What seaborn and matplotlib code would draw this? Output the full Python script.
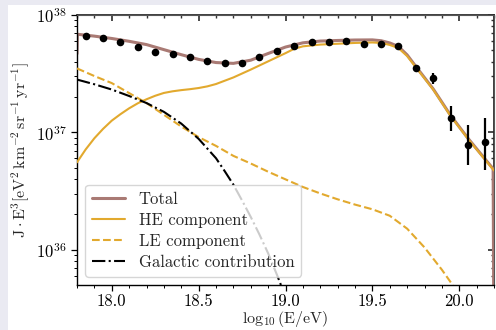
import numpy as np
import pandas as pd
import matplotlib
matplotlib.use("Agg")
import matplotlib.pyplot as plt
from matplotlib.patches import Rectangle
from matplotlib.ticker import LogLocator, MultipleLocator, NullFormatter, FormatStrFormatter
import seaborn as sns

# Measured flux points: log10(E/eV) and log10(J E^3)
points_logE = [17.85, 17.95, 18.05, 18.15, 18.25, 18.35, 18.45, 18.55, 18.65, 18.75,
               18.85, 18.95, 19.05, 19.15, 19.25, 19.35, 19.45, 19.55, 19.65, 19.75,
               19.85, 19.95, 20.05, 20.15]
points_logJ = [37.822, 37.802, 37.773, 37.730, 37.683, 37.672, 37.640, 37.611, 37.587, 37.590,
               37.643, 37.692, 37.736, 37.773, 37.773, 37.781, 37.753, 37.753, 37.732, 37.545,
               37.461, 37.121, 36.894, 36.920]
# Upper / lower ends of the error bars (log10), NaN where hidden by the marker
points_hi = [np.nan] * 19 + [37.565, 37.509, 37.226, 37.064, 37.121]
points_lo = [np.nan] * 19 + [37.525, 37.410, 37.013, 36.723, 36.681]

# Model components: log10(E/eV) and log10(J E^3)
total_logE = [17.80, 17.802, 17.90, 18.00, 18.10, 18.20, 18.30, 18.40, 18.50, 18.60, 18.70,
              18.80, 18.90, 19.00, 19.10, 19.20, 19.30, 19.40, 19.50, 19.55, 19.60,
              19.65, 19.70, 19.75, 19.85, 19.95, 20.05, 20.15, 20.195, 20.20]
total_logJ = [37.670, 37.836, 37.820, 37.800, 37.776, 37.748, 37.705, 37.662, 37.622, 37.595,
              37.588, 37.615, 37.672, 37.727, 37.763, 37.778, 37.783, 37.787, 37.788, 37.781,
              37.762, 37.732, 37.660, 37.562, 37.370, 37.145, 36.950, 36.770, 36.690, 35.000]

he_logE = [17.80, 17.85, 17.90, 17.95, 18.00, 18.05, 18.10, 18.15, 18.20, 18.25,
           18.30, 18.35, 18.40, 18.45, 18.50, 18.55, 18.60, 18.70, 18.80, 18.90,
           19.00, 19.05, 19.10, 19.20, 19.30, 19.40, 19.50, 19.55, 19.60, 19.65,
           19.70, 19.75, 19.85, 19.95, 20.05, 20.15, 20.20]
he_logJ = [36.745, 36.855, 36.950, 37.030, 37.100, 37.155, 37.205, 37.248, 37.282, 37.312,
           37.336, 37.350, 37.360, 37.368, 37.378, 37.392, 37.412, 37.468, 37.535, 37.605,
           37.675, 37.712, 37.733, 37.748, 37.755, 37.762, 37.766, 37.762, 37.745, 37.718,
           37.650, 37.555, 37.365, 37.140, 36.945, 36.765, 36.675]

le_logE = [17.80, 17.90, 18.00, 18.10, 18.20, 18.30, 18.40, 18.50, 18.60, 18.70,
           18.80, 18.90, 19.00, 19.10, 19.20, 19.30, 19.40, 19.50, 19.60, 19.70,
           19.80, 19.90, 20.00, 20.05]
le_logJ = [37.545, 37.480, 37.420, 37.335, 37.250, 37.150, 37.050, 36.960, 36.885, 36.800,
           36.735, 36.665, 36.600, 36.535, 36.480, 36.430, 36.385, 36.345, 36.290, 36.180,
           36.020, 35.830, 35.620, 35.500]

gal_logE = [17.80, 17.90, 18.00, 18.10, 18.20, 18.30, 18.40, 18.50, 18.60, 18.65,
            18.70, 18.75, 18.80, 18.85, 18.90, 18.95, 19.00]
gal_logJ = [37.450, 37.410, 37.365, 37.310, 37.250, 37.175, 37.075, 36.945, 36.780, 36.670,
            36.555, 36.420, 36.280, 36.130, 35.970, 35.790, 35.600]

series_labels = ["Total", "HE component", "LE component", "Galactic contribution"]

C_TOTAL = "#a97a74"
C_GOLD = "#e2a92e"
C_EDGE = "#eaeaf2"

sns.set_theme(style="ticks")
plt.rcParams.update({
    "font.family": ["cmr10", "DejaVu Serif"],
    "mathtext.fontset": "cm",
    "axes.formatter.use_mathtext": True,
    "axes.unicode_minus": False,
    "font.size": 12,
})

fig = plt.figure(figsize=(4.96, 3.30), dpi=100, facecolor="white")
# lavender strips along the left and top edges of the canvas
fig.patches.append(Rectangle((0, 0), 8 / 496, 1, transform=fig.transFigure,
                             facecolor=C_EDGE, edgecolor="none", zorder=-10))
fig.patches.append(Rectangle((0, 1 - 5 / 330), 1, 5 / 330, transform=fig.transFigure,
                             facecolor=C_EDGE, edgecolor="none", zorder=-10))
ax = fig.add_axes([77 / 496, 1 - 285 / 330, 417 / 496, 270 / 330])
ax.set_facecolor("white")

def frame(xs, ys):
    return pd.DataFrame({"logE": xs, "J": np.power(10.0, ys)})

sns.lineplot(data=frame(total_logE, total_logJ), x="logE", y="J", ax=ax, color=C_TOTAL,
             lw=2.2, label=series_labels[0], estimator=None, sort=False, zorder=2)
sns.lineplot(data=frame(he_logE, he_logJ), x="logE", y="J", ax=ax, color=C_GOLD,
             lw=1.5, label=series_labels[1], estimator=None, sort=False, zorder=3)
sns.lineplot(data=frame(le_logE, le_logJ), x="logE", y="J", ax=ax, color=C_GOLD,
             lw=1.5, ls=(0, (3.7, 1.6)), label=series_labels[2], estimator=None, sort=False, zorder=3)
sns.lineplot(data=frame(gal_logE, gal_logJ), x="logE", y="J", ax=ax, color="black",
             lw=1.5, ls=(0, (6.4, 1.6, 1.0, 1.6)), label=series_labels[3], estimator=None,
             sort=False, zorder=3)

pts = pd.DataFrame({"logE": points_logE, "J": np.power(10.0, points_logJ),
                    "hi": np.power(10.0, points_hi), "lo": np.power(10.0, points_lo)})
err = np.vstack([(pts["J"] - pts["lo"]).fillna(0).values, (pts["hi"] - pts["J"]).fillna(0).values])
ax.errorbar(pts["logE"], pts["J"], yerr=err, fmt="none", ecolor="black", elinewidth=1.6, zorder=4)
sns.scatterplot(data=pts, x="logE", y="J", ax=ax, color="black", s=30, edgecolor="black",
                linewidth=0, zorder=5, legend=False)

ax.set_yscale("log")
ax.set_xlim(17.8, 20.2)
ax.set_ylim(10 ** 35.70, 1e38)
ax.xaxis.set_major_locator(MultipleLocator(0.5))
ax.xaxis.set_minor_locator(MultipleLocator(0.1))
ax.xaxis.set_major_formatter(FormatStrFormatter("%.1f"))
ax.yaxis.set_major_locator(LogLocator(base=10, numticks=10))
ax.yaxis.set_minor_locator(LogLocator(base=10, subs=np.arange(2, 10), numticks=10))
ax.yaxis.set_minor_formatter(NullFormatter())

ax.tick_params(axis="both", which="both", direction="out", colors="black", labelsize=12,
               top=False, right=False)
ax.tick_params(axis="x", which="major", pad=2)
ax.tick_params(which="major", length=4, width=0.9)
ax.tick_params(which="minor", length=2.5, width=0.7)
# inward ticks on the top and right edges
sec_x = ax.secondary_xaxis("top")
sec_x.xaxis.set_major_locator(MultipleLocator(0.5))
sec_x.xaxis.set_minor_locator(MultipleLocator(0.1))
sec_x.tick_params(which="both", direction="in", labeltop=False, colors="#333333")
sec_x.tick_params(which="major", length=4)
sec_x.tick_params(which="minor", length=2.5)
sec_y = ax.secondary_yaxis("right")
sec_y.set_yscale("log")
sec_y.yaxis.set_major_locator(LogLocator(base=10, numticks=10))
sec_y.yaxis.set_minor_locator(LogLocator(base=10, subs=np.arange(2, 10), numticks=10))
sec_y.tick_params(which="both", direction="in", labelright=False, colors="#333333")
sec_y.tick_params(which="major", length=4)
sec_y.tick_params(which="minor", length=2.5)

for side in ["left", "bottom"]:
    ax.spines[side].set_color("black")
    ax.spines[side].set_linewidth(1.0)
for side in ["top", "right"]:
    ax.spines[side].set_visible(True)
    ax.spines[side].set_color("#555555")
    ax.spines[side].set_linewidth(0.8)

ax.set_xlabel(r"$\log_{10}(\mathrm{E/eV})$", fontsize=11.5, labelpad=0)
ax.set_ylabel(r"$\mathrm{J\cdot E^3[eV^2\,km^{-2}\,sr^{-1}\,yr^{-1}]}$", fontsize=11.5, labelpad=3)

leg = ax.legend(loc="lower left", fontsize=12, frameon=True, framealpha=0.8,
                edgecolor="#cccccc", fancybox=True, handlelength=2.0,
                labelspacing=0.35, borderpad=0.4, handletextpad=0.8, borderaxespad=0.5)

fig.savefig("out.png", dpi=100, facecolor=fig.get_facecolor())
